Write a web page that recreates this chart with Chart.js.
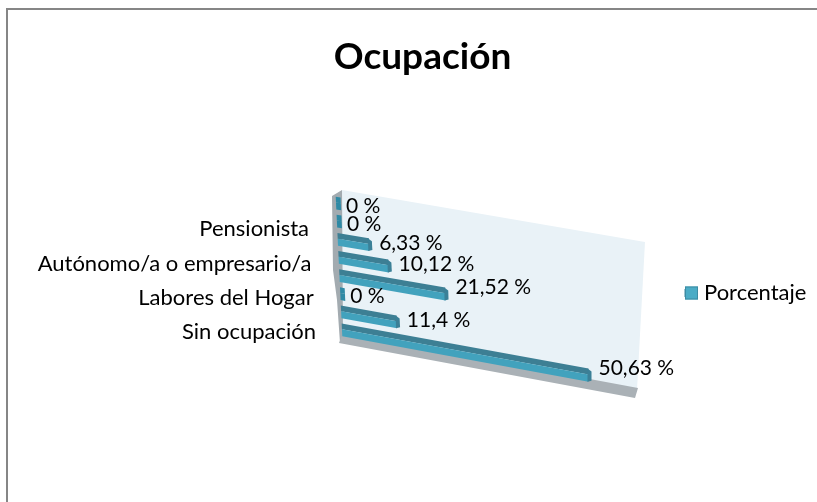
<!DOCTYPE html>
<html><head><meta charset="utf-8">
<style>html,body{margin:0;padding:0;background:#fff}#w{position:relative;width:817px;height:502px}canvas{display:block}</style>
<script src="https://cdn.jsdelivr.net/npm/chart.js@4/dist/chart.umd.min.js"></script>
</head><body><div id="w"><canvas id="c" width="817" height="502"></canvas></div>
<script>
const categories = ["Sin ocupación","","Labores del Hogar","","Autónomo/a o empresario/a","","Pensionista",""];
const porcentaje = [50.63,11.4,0,21.52,10.12,6.33,0,0];
const seriesName = "Porcentaje";
const titleText = "Ocupación";
const axisMax = 60;

// perspective planes, as seen in the reference
const WALL={TL:[342,190],TR:[645,242],BL:[342,340],BR:[637,390]};
const BARS={TL:[335.6,194],TR:[636,242],BL:[342.4,339],BR:[634,393]};
const labelNudge=[-7,-2,3,-7,-2,-1,3,3];
const FONT='Lato, Carlito, sans-serif';
const lerp=(a,b,t)=>[a[0]+(b[0]-a[0])*t,a[1]+(b[1]-a[1])*t];
function proj(area,x,y){
  const u=(x-area.left)/(area.right-area.left), v=(y-area.top)/(area.bottom-area.top);
  return lerp(lerp(BARS.TL,BARS.TR,u),lerp(BARS.BL,BARS.BR,u),v);
}
function poly(ctx,pts,fill){
  ctx.beginPath();pts.forEach((p,i)=>i?ctx.lineTo(p[0],p[1]):ctx.moveTo(p[0],p[1]));ctx.closePath();
  ctx.fillStyle=fill;ctx.fill();
}
const frame={id:'frame',beforeDraw(ch){
  const c=ch.ctx;c.save();c.fillStyle='#868686';
  c.fillRect(6,8,811,2);c.fillRect(6,8,2,494);c.restore();
}};
let legendBox=null;
const perspective={id:'perspective',
  afterLayout(ch){
    // title sits right of the canvas centre
    ch.titleBlock.left+=12;ch.titleBlock.right+=12;
    // legend placed beside the wall's middle
    const lg=ch.legend;
    const dx=685-(lg.left+10), dy=293-(lg.top+lg.bottom)/2;
    lg.left+=dx;lg.right+=dx;lg.top+=dy;lg.bottom+=dy;
    legendBox={x:685,y:293};
    // category labels follow the slant of the chart's left edge
    const ys=ch.scales.y, k=0.068;
    ys.getLabelItems().forEach(it=>{
      it.options.translation[0]+=k*(it.options.translation[1]-332);
    });
  },
  beforeDatasetsDraw(ch){
    const c=ch.ctx;
    poly(c,[WALL.TL,WALL.TR,WALL.BR,WALL.BL],'#e9f2f7');
    poly(c,[[332,196],[342,190],[343,335],[340,343],[337,300],[333,270]],'#a3abb0');
    poly(c,[[343,333],[638,388],[635,398],[339,343]],'#aab1b6');
  },
  beforeDatasetDraw(ch,args){
    const c=ch.ctx,a=ch.chartArea,meta=args.meta;
    meta.data.forEach((el,i)=>{
      const h=el.height, y0=el.y-h/2, y1=el.y+h/2, xb=el.base;
      const xe=Math.max(el.x,xb+(a.right-a.left)*0.016);
      const split=y0+h*0.45;
      const P=(x,y)=>proj(a,x,y);
      const zero=!porcentaje[i];
      poly(c,[P(xb,y0),P(xe,y0),P(xe,split),P(xb,split)],zero?'#2f8aa5':'#3d7f94');
      poly(c,[P(xb,split),P(xe,split),P(xe,y1),P(xb,y1)],zero?'#2f8aa5':'#42a2bd');
      if(!zero){
        const p1=P(xe,y0),p2=P(xe,y1);
        poly(c,[[p1[0]-1,p1[1]],[p1[0]+3,p1[1]+3],[p2[0]+3,p2[1]-1],[p2[0]-1,p2[1]]],'#3b8097');
      }
    });
    return false;
  },
  afterDatasetsDraw(ch){
    const c=ch.ctx,a=ch.chartArea,meta=ch.getDatasetMeta(0);
    c.save();c.font='21px '+FONT;c.fillStyle='#000';c.textBaseline='middle';c.textAlign='left';
    meta.data.forEach((el,i)=>{
      const p=proj(a,el.x,el.y);
      c.fillText(String(porcentaje[i]).replace('.',',')+' %',p[0]+10,p[1]+labelNudge[i]);
    });
    c.restore();
  },
  afterDraw(ch){
    const c=ch.ctx;
    if(legendBox){c.save();c.fillStyle='#4bacc6';c.strokeStyle='#3d8ba3';c.lineWidth=1;
      c.fillRect(legendBox.x,legendBox.y-6.5,13,13);c.strokeRect(legendBox.x+.5,legendBox.y-6,12,12);c.restore();}
  }
};
new Chart(document.getElementById('c'),{
  type:'bar',
  data:{labels:categories,datasets:[{label:seriesName,data:porcentaje,backgroundColor:'#4bacc6',borderColor:'#3d8ba3',borderWidth:1,barPercentage:0.9,categoryPercentage:0.78}]},
  options:{
    indexAxis:'y',responsive:false,animation:false,
    layout:{padding:{top:0,left:6,right:2,bottom:161}},
    scales:{
      x:{min:0,max:axisMax,display:false},
      y:{reverse:true,grid:{display:false},border:{display:false},
        afterFit(s){s.width=336;},
        ticks:{autoSkip:false,color:'#000',padding:18,font:{family:FONT,size:22}}}
    },
    plugins:{
      title:{display:true,text:titleText,color:'#000',font:{family:FONT,size:37,weight:'bold'},padding:{top:35,bottom:124}},
      legend:{position:'right',labels:{color:'#000',boxWidth:8,boxHeight:8,font:{family:FONT,size:22}}},
      tooltip:{enabled:false}
    }
  },
  plugins:[frame,perspective]
});
</script></body></html>
